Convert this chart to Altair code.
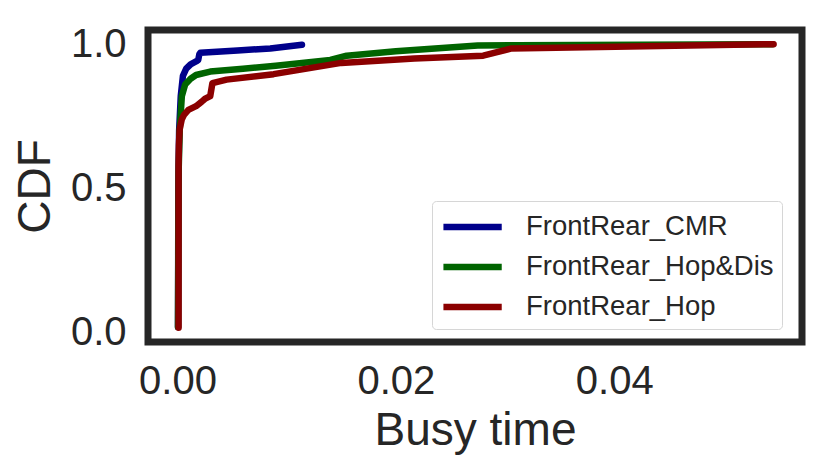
import altair as alt
import pandas as pd

series_names = ["FrontRear_CMR", "FrontRear_Hop&Dis", "FrontRear_Hop"]
series_colors = ["#00008b", "#006400", "#8b0000"]

cmr_x = [0.00005, 0.00008, 0.00015, 0.0003, 0.0005, 0.0008, 0.0012, 0.0017, 0.0019, 0.002, 0.0021, 0.0055, 0.0085, 0.0114]
cmr_y = [0.02, 0.5, 0.7, 0.82, 0.89, 0.915, 0.93, 0.94, 0.945, 0.965, 0.97, 0.978, 0.985, 0.998]

hopdis_x = [0.00005, 0.0001, 0.0002, 0.0004, 0.0007, 0.0012, 0.0017, 0.003, 0.006, 0.009, 0.014, 0.0155, 0.02, 0.0275, 0.031, 0.0545]
hopdis_y = [0.02, 0.55, 0.7, 0.82, 0.86, 0.88, 0.893, 0.905, 0.915, 0.925, 0.945, 0.96, 0.975, 0.995, 0.996, 1.0]

hop_x = [0.0001, 0.0001, 0.00013, 0.0002, 0.0004, 0.0006, 0.001, 0.0017, 0.0022, 0.0025, 0.003, 0.0032, 0.0045, 0.0088, 0.015, 0.0217, 0.028, 0.0306, 0.0546]
hop_y = [0.017, 0.58, 0.65, 0.705, 0.74, 0.755, 0.772, 0.785, 0.8, 0.81, 0.82, 0.865, 0.877, 0.896, 0.935, 0.95, 0.96, 0.985, 1.0]

rows = []
for name, xs, ys in [(series_names[0], cmr_x, cmr_y),
                     (series_names[1], hopdis_x, hopdis_y),
                     (series_names[2], hop_x, hop_y)]:
    for i, (xv, yv) in enumerate(zip(xs, ys)):
        rows.append({"series": name, "busy": xv, "cdf": yv, "idx": i})
df = pd.DataFrame(rows)

FONT = "Liberation Sans"
TXT = "#262626"

chart = alt.Chart(df).mark_line(
    strokeWidth=6.5, strokeCap="round", strokeJoin="round"
).encode(
    x=alt.X("busy:Q",
            scale=alt.Scale(domain=[-0.0027, 0.0572], nice=False, zero=False),
            axis=alt.Axis(title="Busy time", values=[0, 0.02, 0.04], format=".2f",
                          ticks=False, domain=False, grid=False,
                          labelFontSize=40, titleFontSize=46, labelPadding=19,
                          titlePadding=7, labelFont=FONT, titleFont=FONT,
                          labelColor=TXT, titleColor=TXT, titleFontWeight="normal")),
    y=alt.Y("cdf:Q",
            scale=alt.Scale(domain=[-0.032, 1.049], nice=False, zero=False),
            axis=alt.Axis(title="CDF", values=[0, 0.5, 1.0], format=".1f",
                          ticks=False, domain=False, grid=False,
                          labelFontSize=40, titleFontSize=46, labelPadding=22,
                          titlePadding=11, labelFont=FONT, titleFont=FONT,
                          labelColor=TXT, titleColor=TXT, titleFontWeight="normal")),
    color=alt.Color("series:N",
                    scale=alt.Scale(domain=series_names, range=series_colors),
                    legend=alt.Legend(title=None, orient="none", legendX=284, legendY=171,
                                      symbolType="M-1,0H3", symbolSize=850,
                                      symbolStrokeWidth=6.5, labelOffset=50,
                                      labelFontSize=27.5, labelFont=FONT, labelColor=TXT,
                                      labelLimit=400,
                                      rowPadding=8, padding=8,
                                      strokeColor="#d6d6d6", fillColor="white",
                                      cornerRadius=4)),
    order="idx:Q",
).properties(
    width=654, height=312,
    autosize=alt.AutoSizeParams(type="none"),
    padding={"left": 140, "top": 22, "right": 20, "bottom": 130},
).configure_view(
    stroke=TXT, strokeWidth=7
)

chart.save("out.html", embed_options={"renderer": "svg", "actions": False})
